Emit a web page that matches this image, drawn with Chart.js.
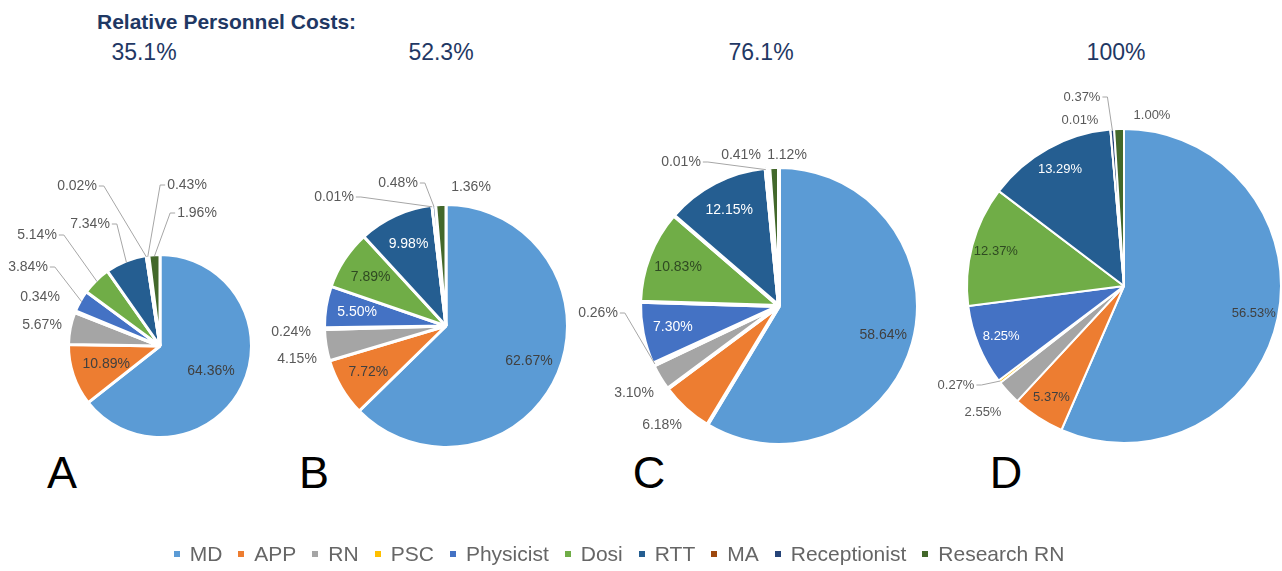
<!DOCTYPE html>
<html>
<head>
<meta charset="utf-8">
<script src="https://cdn.jsdelivr.net/npm/chart.js@4.4.1/dist/chart.umd.min.js"></script>
<style>
  html, body { margin: 0; padding: 0; background: #fff; overflow: hidden; }
  body { width: 1282px; height: 571px; position: relative; font-family: 'Liberation Sans', Arial, sans-serif; }
  .pie { position: absolute; width: 420px; height: 420px; }
  .title { position: absolute; left: 97px; top: 9px; font-size: 21px; line-height: 25px; font-weight: bold; color: #1F3864; white-space: nowrap; }
  .rel { position: absolute; top: 38px; font-size: 23px; line-height: 28px; color: #1F3864; transform: translateX(-50%); }
  .letter { position: absolute; top: 446px; font-size: 45px; line-height: 54px; color: #000; transform: translateX(-50%); }
  #legend { position: absolute; top: 541px; left: 0; width: 1238px; display: flex; justify-content: center; font-size: 21px; line-height: 25px; color: #666; white-space: nowrap; }
  #legend span.item { display: inline-flex; align-items: center; margin: 0 8px; }
  #legend i { display: inline-block; width: 6px; height: 6px; margin-right: 10px; }
</style>
</head>
<body>
<div class="title">Relative Personnel Costs:</div>
<div id="heads"></div>
<div id="pies"></div>
<div id="legend"></div>
<script>
const CATEGORIES = ['MD', 'APP', 'RN', 'PSC', 'Physicist', 'Dosi', 'RTT', 'MA', 'Receptionist', 'Research RN'];
const COSTS_A = [64.36, 10.89, 5.67, 0.34, 3.84, 5.14, 7.34, 0.02, 0.43, 1.96];
const COSTS_B = [62.67, 7.72, 4.15, 0.24, 5.50, 7.89, 9.98, 0.01, 0.48, 1.36];
const COSTS_C = [58.64, 6.18, 3.10, 0.26, 7.30, 10.83, 12.15, 0.01, 0.41, 1.12];
const COSTS_D = [56.53, 5.37, 2.55, 0.27, 8.25, 12.37, 13.29, 0.01, 0.37, 1.00];
const PANEL_NAMES = ['A', 'B', 'C', 'D'];
const RELATIVE_COSTS = ['35.1%', '52.3%', '76.1%', '100%'];

const COLORS = ['#5B9BD5', '#ED7D31', '#A5A5A5', '#FFC000', '#4472C4', '#70AD47', '#255E91', '#9E480E', '#264478', '#43682B'];
const INSIDE_TEXT = ['#404040', '#404040', '#404040', '#404040', '#ffffff', '#2f4a22', '#ffffff', '#ffffff', '#ffffff', '#ffffff'];

// where each pie sits, and where Excel pushed the small labels (offsets from the pie centre)
const PANELS = [
  { data: COSTS_A, cx: 160, cy: 346, r: 90, border: 3, font: 14, inside: 0.63, rel: 144, letter: 62,
    outside: { RN: [-118, -21], PSC: [-120, -49], Physicist: [-132, -79], Dosi: [-123, -111], RTT: [-70, -122],
               MA: [-83, -160], Receptionist: [27, -161], 'Research RN': [37, -133] } },
  { data: COSTS_B, cx: 446, cy: 326, r: 120, border: 3, font: 14, inside: 0.75, rel: 441, letter: 314,
    outside: { RN: [-149, 33], PSC: [-155, 6], MA: [-112, -129], Receptionist: [-48, -143], 'Research RN': [25, -139] } },
  { data: COSTS_C, cx: 779, cy: 306, r: 137, border: 4, font: 14, inside: 0.79, rel: 761, letter: 649,
    outside: { APP: [-117, 119], RN: [-145, 87], PSC: [-181, 7], MA: [-98, -144], Receptionist: [-38, -151], 'Research RN': [8, -151] } },
  { data: COSTS_D, cx: 1124, cy: 286, r: 156, border: 2, font: 13, inside: 0.85, rel: 1116, letter: 1006,
    outside: { RN: [-141, 126], PSC: [-168, 99], MA: [-44, -166], Receptionist: [-42, -189], 'Research RN': [28, -171] } }
];

const sliceLabels = (p) => ({
  id: 'sliceLabels',
  afterDatasetsDraw(chart) {
    const ctx = chart.ctx;
    const meta = chart.getDatasetMeta(0);
    ctx.save();
    ctx.font = p.font + "px 'Liberation Sans', Arial, sans-serif";
    ctx.textAlign = 'center';
    ctx.textBaseline = 'middle';
    meta.data.forEach((arc, i) => {
      const { x, y, startAngle, endAngle, outerRadius } = arc.getProps(['x', 'y', 'startAngle', 'endAngle', 'outerRadius'], true);
      const mid = (startAngle + endAngle) / 2;
      const r0 = outerRadius - p.border / 2;
      const text = p.data[i].toFixed(2) + '%';
      const off = p.outside[CATEGORIES[i]];
      if (!off) {
        ctx.fillStyle = INSIDE_TEXT[i];
        ctx.fillText(text, x + Math.cos(mid) * r0 * p.inside, y + Math.sin(mid) * r0 * p.inside);
        return;
      }
      const ax = x + Math.cos(mid) * r0, ay = y + Math.sin(mid) * r0;
      const lx = x + off[0], ly = y + off[1];
      const w = ctx.measureText(text).width;
      const left = lx - w / 2 - 2, right = lx + w / 2 + 2, top = ly - p.font / 2, bottom = ly + p.font / 2;
      const nx = Math.max(left, Math.min(ax, right)), ny = Math.max(top, Math.min(ay, bottom));
      if (Math.hypot(ax - nx, ay - ny) > 20) {
        ctx.beginPath();
        if (ax > right) { ctx.moveTo(right, ly); ctx.lineTo(right + 5, ly); }
        else if (ax < left) { ctx.moveTo(left, ly); ctx.lineTo(left - 5, ly); }
        else ctx.moveTo(lx, bottom);
        ctx.lineTo(ax, ay);
        ctx.strokeStyle = '#a6a6a6';
        ctx.lineWidth = 1;
        ctx.stroke();
      }
      ctx.fillStyle = '#595959';
      ctx.fillText(text, lx, ly);
    });
    ctx.restore();
  }
});

const main = () => {
  const pies = document.getElementById('pies');
  const heads = document.getElementById('heads');

  PANELS.forEach((p, k) => {
    const box = document.createElement('div');
    box.className = 'pie';
    box.style.left = (p.cx - 210) + 'px';
    box.style.top = (p.cy - 210) + 'px';
    const canvas = document.createElement('canvas');
    box.appendChild(canvas);
    pies.appendChild(box);

    const rel = document.createElement('div');
    rel.className = 'rel';
    rel.style.left = p.rel + 'px';
    rel.textContent = RELATIVE_COSTS[k];
    heads.appendChild(rel);

    const letter = document.createElement('div');
    letter.className = 'letter';
    letter.style.left = p.letter + 'px';
    letter.textContent = PANEL_NAMES[k];
    heads.appendChild(letter);

    new Chart(canvas, {
      type: 'pie',
      data: {
        labels: CATEGORIES,
        datasets: [{
          data: p.data,
          backgroundColor: COLORS,
          borderColor: '#ffffff',
          borderWidth: p.border
        }]
      },
      options: {
        responsive: true,
        maintainAspectRatio: false,
        animation: false,
        events: [],
        radius: p.r + p.border / 2,
        layout: { padding: 0 },
        plugins: { legend: { display: false }, tooltip: { enabled: false } }
      },
      plugins: [sliceLabels(p)]
    });
  });

  const legend = document.getElementById('legend');
  CATEGORIES.forEach((name, i) => {
    const item = document.createElement('span');
    item.className = 'item';
    item.innerHTML = '<i style="background:' + COLORS[i] + '"></i>' + name;
    legend.appendChild(item);
  });
}

main();
</script>
</body>
</html>
